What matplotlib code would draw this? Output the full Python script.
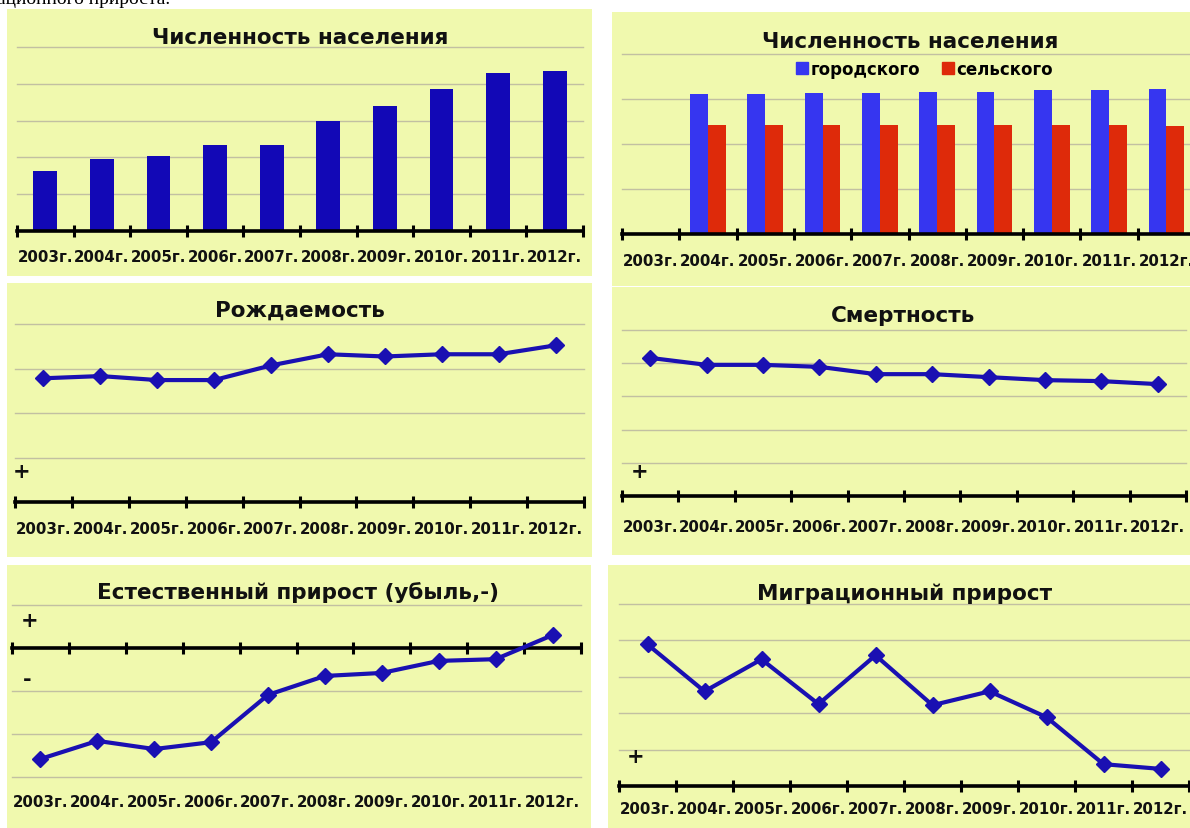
import numpy as np
import matplotlib.pyplot as plt
from matplotlib.lines import Line2D

# figure size in pixels
W, H = 1190, 829

# DATA (arbitrary units: one gridline step = 1)
years = ['2003г.', '2004г.', '2005г.', '2006г.', '2007г.',
         '2008г.', '2009г.', '2010г.', '2011г.', '2012г.']
pop_total = [1.63, 1.96, 2.04, 2.34, 2.34, 3.00, 3.41, 3.87, 4.28, 4.36]
pop_urban = [np.nan, 3.11, 3.11, 3.13, 3.13, 3.16, 3.16, 3.20, 3.20, 3.22]
pop_rural = [np.nan, 2.42, 2.42, 2.42, 2.42, 2.42, 2.42, 2.42, 2.42, 2.40]
births = [2.78, 2.83, 2.74, 2.74, 3.07, 3.32, 3.27, 3.32, 3.32, 3.52]
deaths = [4.16, 3.95, 3.95, 3.89, 3.67, 3.67, 3.58, 3.49, 3.46, 3.37]
natural = [-2.58, -2.16, -2.35, -2.19, -1.09, -0.65, -0.58, -0.30, -0.26, 0.30]
migration = [3.89, 2.60, 3.48, 2.25, 3.59, 2.22, 2.60, 1.89, 0.60, 0.47]

BG = '#F0F9AE'
GRID = '#C2C0A2'
TXT = '#111111'
LINE = '#1A10B2'
FONT = 'DejaVu Sans'

fig = plt.figure(figsize=(W / 100, H / 100), dpi=100)
fig.patch.set_facecolor('white')


def px_rect(x0, y0, x1, y1):
    return [x0 / W, 1 - y1 / H, (x1 - x0) / W, (y1 - y0) / H]


def panel(x0, y0, x1, y1):
    bg = fig.add_axes(px_rect(x0, y0, x1, y1), zorder=-1)
    bg.set_facecolor(BG)
    bg.set_xticks([])
    bg.set_yticks([])
    for s in bg.spines.values():
        s.set_visible(False)


def title(x, y, s):
    fig.text(x / W, 1 - y / H, s, ha='center', va='center', fontsize=15.5,
             fontweight='bold', family=FONT, color=TXT, zorder=5)


def sign(x, y, s):
    fig.text(x / W, 1 - y / H, s, ha='center', va='center', fontsize=15,
             fontweight='bold', family=FONT, color=TXT, zorder=5)


def plot_area(x0, y0, x1, y1, ylo, yhi, axis_y, label_y):
    ax = fig.add_axes(px_rect(x0, y0, x1, y1), zorder=1)
    ax.set_facecolor('none')
    ax.set_xlim(-0.5, 9.5)
    ax.set_ylim(ylo, yhi)
    for s in ax.spines.values():
        s.set_visible(False)
    ax.set_xticks([])
    ax.set_yticks([])
    for g in range(ylo, yhi + 1):
        if g != axis_y:
            ax.axhline(g, color=GRID, lw=1, zorder=1, clip_on=False)
    ax.axhline(axis_y, color='black', lw=2.6, zorder=4, clip_on=False)
    bounds = np.arange(11) - 0.5
    ax.plot(bounds, [axis_y] * 11, ls='none', marker='|', ms=8, mew=2.2,
            color='black', zorder=4, clip_on=False)
    lf = (y1 - label_y) / (y1 - y0)
    for i, lab in enumerate(years):
        ax.text(i, lf, lab, transform=ax.get_xaxis_transform(), ha='center',
                va='center', fontsize=10.8, fontweight='bold', family=FONT,
                color=TXT, clip_on=False)
    return ax


# cut off text line above the charts
fig.text(-3 / W, 1 - 4 / H, 'ационного прироста.', ha='left', va='baseline',
         fontsize=14, family='Liberation Serif', color='black')

# PANEL 1 - total population
panel(7, 10, 592, 277)
title(300, 38, 'Численность населения')
ax1 = plot_area(17, 48, 583, 232, 0, 5, 0, 258)
ax1.bar(range(10), pop_total, width=0.42, color='#1208B6', zorder=3)

# PANEL 2 - urban / rural
panel(612, 13, 1190, 287)
title(910, 42, 'Численность населения')
ax2 = plot_area(622, 55, 1195, 235, 0, 4, 0, 262)
x = np.arange(10)
ax2.bar(x - 0.155, pop_urban, width=0.31, color='#3636F0', zorder=3)
ax2.bar(x + 0.155, pop_rural, width=0.31, color='#DE2A0A', zorder=3)
handles = [Line2D([], [], ls='none', marker='s', ms=8, color='#3636F0'),
           Line2D([], [], ls='none', marker='s', ms=8, color='#DE2A0A')]
leg = fig.legend(handles, ['городского', 'сельского'], loc='center',
                 bbox_to_anchor=(925 / W, 1 - 70 / H), ncol=2, frameon=False,
                 handlelength=0.6, handletextpad=0.2, columnspacing=1.4,
                 prop={'family': FONT, 'weight': 'bold', 'size': 12})
leg.set_zorder(5)

# PANEL 3 - births
panel(7, 284, 592, 558)
title(300, 311, 'Рождаемость')
ax3 = plot_area(15, 325, 584, 503, 0, 4, 0, 529)
ax3.plot(range(10), births, color=LINE, lw=3, marker='D', ms=8.5, zorder=5)
sign(22, 472, '+')

# PANEL 4 - deaths
panel(612, 288, 1190, 556)
title(903, 316, 'Смертность')
ax4 = plot_area(622, 331, 1186, 497, 0, 5, 0, 528)
ax4.plot(range(10), deaths, color=LINE, lw=3, marker='D', ms=8.5, zorder=5)
sign(640, 472, '+')

# PANEL 5 - natural growth
panel(7, 566, 591, 829)
title(298, 593, 'Естественный прирост (убыль,-)')
ax5 = plot_area(12, 606, 581, 778, -3, 1, 0, 803)
ax5.plot(range(10), natural, color=LINE, lw=3, marker='D', ms=8.5, zorder=5)
sign(30, 621, '+')
sign(27, 680, '-')

# PANEL 6 - migration
panel(608, 566, 1190, 829)
title(905, 594, 'Миграционный прирост')
ax6 = plot_area(619, 605, 1189, 787, 0, 5, 0, 810)
ax6.plot(range(10), migration, color=LINE, lw=3, marker='D', ms=8.5, zorder=5)
sign(636, 757, '+')

plt.savefig('out.png', dpi=100)
